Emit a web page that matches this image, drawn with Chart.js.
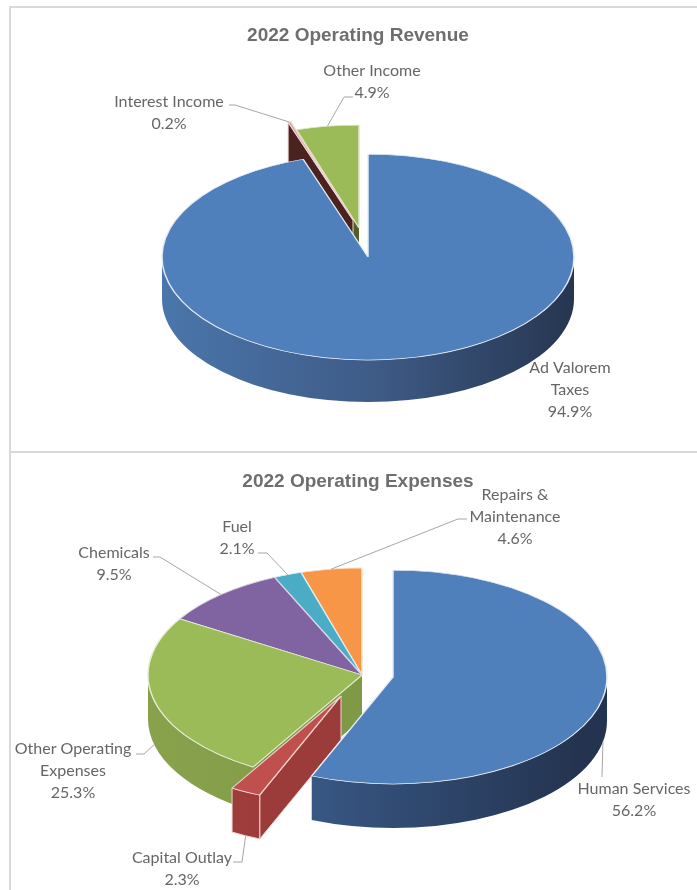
<!DOCTYPE html>
<html>
<head>
<meta charset="utf-8">
<script src="https://cdn.jsdelivr.net/npm/chart.js@4"></script>
<style>
html, body { margin:0; padding:0; background:#fff; overflow:hidden; width:697px; height:890px; }
#wrap { position:relative; width:697px; height:890px; overflow:hidden; }
.panel { position:absolute; left:9px; width:700px; border:2px solid #d9d9d9; box-sizing:border-box; }
canvas { position:absolute; left:0; }
</style>
</head>
<body>
<div id="wrap">
  <div class="panel" style="top:6px;height:447px"></div>
  <div class="panel" style="top:451px;height:460px"></div>
  <canvas id="revenue" style="top:0"></canvas>
  <canvas id="expenses" style="top:452px"></canvas>
</div>
<script>
// values
var revenueLabels = [['Ad Valorem','Taxes'], ['Interest Income'], ['Other Income']]
var revenueValues = [94.9, 0.2, 4.9]
var expenseLabels = [['Human Services'], ['Capital Outlay'], ['Other Operating','Expenses'], ['Chemicals'], ['Fuel'], ['Repairs &','Maintenance']]
var expenseValues = [56.2, 2.3, 25.3, 9.5, 2.1, 4.6]

// styles
var revenueTop = ['#5080bb', '#c98f8c', '#9bbb59']
var revenueEdge = ['#e4ebf4', '#eed5d3', '#dfe8c8']
var revenueWall = [['#4a76ab','#3f5c88','#263650'], ['#4a2320','#4a2320','#4a2320'], ['#4f6128','#4f6128','#4f6128']]
var expenseTop = ['#5080bb', '#c0504d', '#9bbb59', '#8064a2', '#4bacc6', '#f79646']
var expenseEdge = ['#e4ebf4', '#f0d0ce', '#e6eed2', '#ddd5e6', '#d8eef3', '#fbe3cd']
var expenseWall = [['#44709f','#34507a','#243450'], ['#9e3d3b','#9c3c3a','#9c3c3a'], ['#88a24c','#7f9a47','#73893f'], ['#664f82','#664f82','#664f82'], ['#3a8ba0','#3a8ba0','#3a8ba0'], ['#c67a38','#c67a38','#c67a38']]

// slice pull in page pixels, and where text sits (x centre, y of first line)
var revenuePull = [[0,0], [-15,-37], [-9,-29]]
var expensePull = [[31,2], [-21,21], [0,0], [0,0], [0,0], [0,0]]
var revenueText = [[570,368], [169,102], [372,71]]
var expenseText = [[634,337], [182,406], [73,297], [114,101], [237,75], [515,43]]
var revenueBends = [null, [[229,105],[235,105]], [[353,97],[344,97]]]
var expenseBends = [[[602,325]], [[233,410],[242,410]], [[136,302],[144,302]], [[153,105],[160,105]], [[258,101],[267,101]], [[467,67],[458,67]]]

var pie3d = {
  id: 'pie3d',
  beforeDatasetDraw: function(chart, args, o) {
    var ctx = chart.ctx
    var arcs = args.meta.data
    var k = 0.5
    for (var i = arcs.length - 1; i >= 0; i--) {
      var a = arcs[i]
      var cx = o.centre[0] + o.pull[i][0]
      var cy = o.centre[1] + o.pull[i][1]
      var r = a.outerRadius
      var s = a.startAngle, e = a.endAngle
      var grad = ctx.createLinearGradient(o.centre[0] - r, 0, o.centre[0] + r, 0)
      grad.addColorStop(0, o.wall[i][0])
      grad.addColorStop(0.5, o.wall[i][1])
      grad.addColorStop(1, o.wall[i][2])
      ctx.save()
      ctx.fillStyle = grad
      ctx.strokeStyle = o.edge[i]
      ctx.lineWidth = 1

      // flat cut faces that look toward the viewer
      if (Math.cos(s) < -0.001) face(ctx, cx, cy, r, k, s, o.depth, o.wall[i][1], i == 1 && o.edge[i])
      if (Math.cos(e) > 0.001) face(ctx, cx, cy, r, k, e, o.depth, o.wall[i][1], i == 1 && o.edge[i])

      // rim, only the front half of the ellipse
      ctx.fillStyle = grad
      var spins = [0, Math.PI * 2]
      spins.forEach(function(t) {
        var rs = Math.max(s, t), re = Math.min(e, t + Math.PI)
        if (re > rs) {
          ctx.beginPath()
          ctx.ellipse(cx, cy, r, r * k, 0, rs, re)
          ctx.ellipse(cx, cy + o.depth, r, r * k, 0, re, rs, true)
          ctx.closePath()
          ctx.fill()
          if (o.strokeWall && o.strokeWall[i]) ctx.stroke()
        }
      })
      ctx.restore()

      // top face is the library's own arc, squashed
      ctx.save()
      ctx.translate(cx, cy)
      ctx.scale(1, k)
      ctx.translate(-a.x, -a.y)
      a.draw(ctx)
      ctx.restore()
    }
    return false
  },
  afterDatasetsDraw: function(chart, args, o) {
    var ctx = chart.ctx
    var arcs = chart.getDatasetMeta(0).data
    var values = chart.data.datasets[0].data
    ctx.save()
    ctx.strokeStyle = '#a6a6a6'
    ctx.lineWidth = 1
    arcs.forEach(function(a, i) {
      if (!o.bends[i]) return
      var mid = (a.startAngle + a.endAngle) / 2
      var x = o.centre[0] + o.pull[i][0] + a.outerRadius * Math.cos(mid)
      var y = o.centre[1] + o.pull[i][1] + a.outerRadius * 0.5 * Math.sin(mid)
      if (Math.sin(mid) > 0) y += o.depth
      ctx.beginPath()
      o.bends[i].forEach(function(p, n) {
        if (n == 0) ctx.moveTo(p[0], p[1]); else ctx.lineTo(p[0], p[1])
      })
      ctx.lineTo(x, y)
      ctx.stroke()
    })
    ctx.fillStyle = '#666666'
    ctx.font = '16px Lato'
    ctx.textAlign = 'center'
    ctx.textBaseline = 'middle'
    o.names.forEach(function(lines, i) {
      var x = o.text[i][0], y = o.text[i][1]
      var all = lines.concat(values[i].toFixed(1) + '%')
      all.forEach(function(t, n) {
        ctx.fillText(t, x, y + n * 22)
      })
    })
    ctx.restore()
  }
}

function face(ctx, cx, cy, r, k, ang, depth, colour, edge) {
  var x = cx + r * Math.cos(ang)
  var y = cy + r * k * Math.sin(ang)
  ctx.fillStyle = colour
  ctx.beginPath()
  ctx.moveTo(cx, cy)
  ctx.lineTo(x, y)
  ctx.lineTo(x, y + depth)
  ctx.lineTo(cx, cy + depth)
  ctx.closePath()
  ctx.fill()
  if (edge) ctx.stroke()
}

function makePie(id, h, title, titleTop, names, values, tops, edges, pieOpts) {
  var el = document.getElementById(id)
  el.width = 716
  el.height = h
  return new Chart(el.getContext('2d'), {
    type: 'pie',
    data: {
      labels: names.map(function(n) { return n.join(' ') }),
      datasets: [{ data: values, backgroundColor: tops, borderColor: edges, borderWidth: 1.5 }]
    },
    options: {
      responsive: false,
      animation: false,
      radius: pieOpts.radius,
      plugins: {
        legend: { display: false },
        tooltip: { enabled: false },
        title: {
          display: true,
          text: title,
          color: '#6e6e6e',
          font: { family: 'Liberation Sans', size: 19, weight: 'bold' },
          padding: { top: titleTop, bottom: 0 }
        },
        pie3d: pieOpts
      }
    },
    plugins: [pie3d]
  })
}

makePie('revenue', 452, '2022 Operating Revenue', 24, revenueLabels, revenueValues, revenueTop, revenueEdge, {
  radius: 206, centre: [368,257], depth: 42, pull: revenuePull, wall: revenueWall, edge: revenueEdge,
  names: revenueLabels, text: revenueText, bends: revenueBends
})
makePie('expenses', 438, '2022 Operating Expenses', 18, expenseLabels, expenseValues, expenseTop, expenseEdge, {
  radius: 214, centre: [362,223], depth: 44, pull: expensePull, wall: expenseWall, edge: expenseEdge,
  strokeWall: [false, true, false, false, false, false],
  names: expenseLabels, text: expenseText, bends: expenseBends
})
</script>
</body>
</html>
